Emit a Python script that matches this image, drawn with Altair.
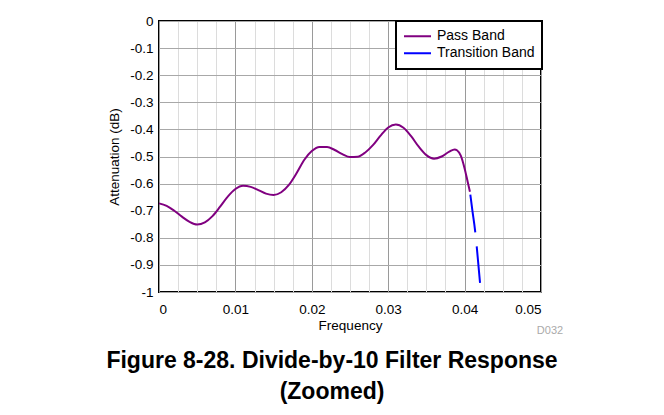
import altair as alt
import pandas as pd

# ---- data ----
pass_freq = [0.000, 0.001, 0.002, 0.003, 0.004, 0.005, 0.006, 0.007, 0.008, 0.009,
             0.010, 0.011, 0.012, 0.013, 0.014, 0.015, 0.016, 0.017, 0.018, 0.019,
             0.020, 0.021, 0.022, 0.023, 0.024, 0.025, 0.026, 0.027, 0.028, 0.029,
             0.030, 0.031, 0.032, 0.033, 0.034, 0.035, 0.036, 0.037, 0.038, 0.0387,
             0.039, 0.0395, 0.040, 0.0404, 0.0407]
pass_db = [-0.673, -0.682, -0.700, -0.722, -0.741, -0.751, -0.743, -0.720, -0.685, -0.648,
           -0.620, -0.608, -0.612, -0.624, -0.637, -0.642, -0.632, -0.605, -0.562, -0.513,
           -0.480, -0.465, -0.465, -0.476, -0.491, -0.502, -0.501, -0.485, -0.458, -0.423,
           -0.393, -0.382, -0.394, -0.425, -0.464, -0.495, -0.508, -0.500, -0.482, -0.474,
           -0.477, -0.497, -0.544, -0.593, -0.630]

trans_freq = [0.0407, 0.04102, 0.04138, 0.04158, 0.04202]
trans_db = [-0.630, -0.700, -0.775, -0.830, -0.966]

bands = ["Pass Band", "Transition Band"]
band_colors = ["#800080", "#0000ff"]

x_major = [0, 0.01, 0.02, 0.03, 0.04, 0.05]
x_minor = [0.0025, 0.005, 0.0075, 0.0125, 0.015, 0.0175, 0.0225, 0.025, 0.0275,
           0.0325, 0.035, 0.0375, 0.0425, 0.045, 0.0475]
y_ticks = [0, -0.1, -0.2, -0.3, -0.4, -0.5, -0.6, -0.7, -0.8, -0.9, -1]

title_lines = ["Figure 8-28. Divide-by-10 Filter Response", "(Zoomed)"]
doc_id = ["D032"]

FONT = "Liberation Sans, Arial, sans-serif"

pass_df = pd.DataFrame({"Frequency": pass_freq, "Attenuation": pass_db, "Band": bands[0]})
trans_df = pd.DataFrame({"Frequency": trans_freq, "Attenuation": trans_db, "Band": bands[1]})
id_df = pd.DataFrame({"t": doc_id})

xscale = alt.Scale(domain=[0, 0.05], nice=False, zero=False)
yscale = alt.Scale(domain=[-1, 0], nice=False, zero=False)

y_axis = alt.Axis(values=y_ticks, labelExpr="'' + datum.value", title="Attenuation (dB)",
                  grid=True, gridColor="#a8a8a8", gridWidth=1.2,
                  labelFont=FONT, labelFontSize=13.5, labelColor="black",
                  titleFont=FONT, titleFontSize=13.5, titleFontWeight="normal", titleColor="black",
                  labelPadding=6, titlePadding=8)

color = alt.Color(
    "Band:N",
    scale=alt.Scale(domain=bands, range=band_colors),
    legend=alt.Legend(
        title=None, orient="none", legendX=237, legendY=0,
        symbolType="stroke", symbolSize=729, symbolStrokeWidth=2,
        labelFont=FONT, labelFontSize=14, labelColor="black", labelOffset=5,
        fillColor="white", strokeColor="black", padding=7,
        clipHeight=16.6, rowPadding=0,
    ),
)

pass_line = alt.Chart(pass_df).mark_line(strokeWidth=2, interpolate="monotone").encode(
    x=alt.X("Frequency:Q", scale=xscale,
            axis=alt.Axis(values=x_major, labelExpr="'' + datum.value", title="Frequency",
                          grid=True, gridColor="#9a9a9a", gridWidth=1,
                          labelFont=FONT, labelFontSize=13.5, labelColor="black",
                          titleFont=FONT, titleFontSize=13.5, titleFontWeight="normal",
                          titleColor="black", labelPadding=10, titlePadding=3)),
    y=alt.Y("Attenuation:Q", scale=yscale, axis=y_axis),
    color=color,
)

trans_line = alt.Chart(trans_df).mark_line(
    strokeWidth=2, interpolate="monotone", strokeDash=[38, 14], strokeDashOffset=49
).encode(
    x=alt.X("Frequency:Q", scale=xscale,
            axis=alt.Axis(orient="top", values=x_minor, labels=False, ticks=False,
                          domain=False, title=None, grid=True, gridColor="#dcdcdc", gridWidth=1)),
    y=alt.Y("Attenuation:Q", scale=yscale, axis=y_axis),
    color=color,
)

id_text = alt.Chart(id_df).mark_text(
    font=FONT, fontSize=11, color="#aaaaaa", align="center", baseline="middle"
).encode(text="t:N", x=alt.value(391), y=alt.value(310))

chart = (
    alt.layer(pass_line, trans_line, id_text)
    .resolve_axis(x="independent")
    .properties(
        width=382, height=271,
        background="white",
        autosize=alt.AutoSizeParams(type="none"),
        padding={"left": 151, "top": 13, "right": 115, "bottom": 115},
        title=alt.TitleParams(
            title_lines, orient="bottom", anchor="middle", frame="group",
            dx=-18, offset=14, fontSize=23, font=FONT, fontWeight="bold",
            lineHeight=31, color="black",
        ),
    )
    .configure_view(stroke="black", strokeWidth=2)
    .configure_axis(domain=False, ticks=False)
    .configure_legend(strokeWidth=2)
)

chart.save("out.html", embed_options={"renderer": "svg", "actions": False})
